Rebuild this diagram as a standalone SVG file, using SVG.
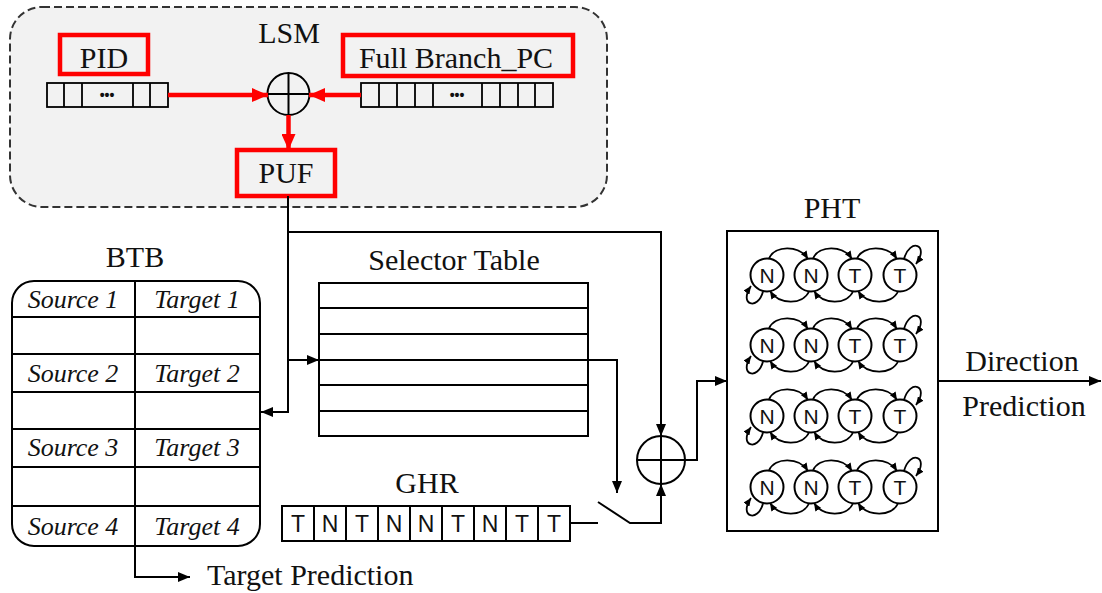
<svg xmlns="http://www.w3.org/2000/svg" width="1102" height="593" viewBox="0 0 1102 593">
<defs>
  <marker id="ab" viewBox="0 0 12 10" refX="12" refY="5" markerWidth="12" markerHeight="10" orient="auto" markerUnits="userSpaceOnUse"><path d="M0,0 L12,5 L0,10 z" fill="#000"/></marker>
  <marker id="ar" viewBox="0 0 16 14" refX="16" refY="7" markerWidth="16" markerHeight="14" orient="auto" markerUnits="userSpaceOnUse"><path d="M0,0 L16,7 L0,14 z" fill="#f00"/></marker>
  <marker id="as" viewBox="0 0 8 7" refX="8" refY="3.5" markerWidth="8" markerHeight="7" orient="auto" markerUnits="userSpaceOnUse"><path d="M0,0 L8,3.5 L0,7 z" fill="#000"/></marker>
  <!-- 2-bit counter transitions for one PHT row, centred on y=0 -->
  <g id="fsm" fill="none" stroke="#000" stroke-width="1.8">
    <path d="M769,-16.5 C775,-30 799,-30 808,-16" marker-end="url(#as)"/>
    <path d="M813,-16.5 C819,-30 843,-30 852,-16" marker-end="url(#as)"/>
    <path d="M857,-16.5 C863,-30 888,-30 897,-16" marker-end="url(#as)"/>
    <path d="M904,-16 C910,-38 930,-30 916,-11" marker-end="url(#as)"/>
    <path d="M809,16.5 C803,30 779,30 770,16" marker-end="url(#as)"/>
    <path d="M853,16.5 C847,30 823,30 814,16" marker-end="url(#as)"/>
    <path d="M898,16.5 C892,30 867,30 858,16" marker-end="url(#as)"/>
    <path d="M763,16.5 C758,36 738,30 751,11" marker-end="url(#as)"/>
  </g>
</defs>
<style>
  .t{font-family:"Liberation Serif","Times New Roman",serif;font-size:30px;fill:#111}
  .i{font-family:"Liberation Serif","Times New Roman",serif;font-style:italic;font-size:26px;fill:#111}
  .s{font-family:"Liberation Sans",Arial,sans-serif;fill:#111}
  .ln{fill:none;stroke:#000;stroke-width:2}
  .rd{fill:none;stroke:#f00;stroke-width:4.5}
  .cell{fill:none;stroke:#000;stroke-width:1.8}
  .st{fill:#fff;stroke:#000;stroke-width:2}
</style>

<rect width="1102" height="593" fill="#fff"/>

<!-- LSM block -->
<g id="lsm">
  <rect x="10" y="7" width="597" height="200" rx="32" fill="#f2f2f2" stroke="#333" stroke-width="2" stroke-dasharray="8,4"/>
  <text class="t" x="289" y="43" text-anchor="middle" font-size="34">LSM</text>
</g>

<g id="pid">
  <rect class="rd" x="60" y="35" width="88" height="39"/>
  <text class="t" x="104" y="68" text-anchor="middle" font-size="31">PID</text>
  <rect class="cell" x="47" y="83" width="121" height="24"/>
  <path class="cell" d="M64,83V107M82,83V107M133,83V107M150,83V107"/>
  <text class="s" x="107" y="100" text-anchor="middle" font-size="14" font-weight="bold">•••</text>
</g>

<g id="full-branch-pc">
  <rect class="rd" x="343" y="35" width="230" height="41"/>
  <text class="t" x="456" y="68" text-anchor="middle" font-size="31">Full Branch_PC</text>
  <rect class="cell" x="361" y="83" width="192" height="24"/>
  <path class="cell" d="M379,83V107M397,83V107M415,83V107M433,83V107M482,83V107M500,83V107M518,83V107M535,83V107"/>
  <text class="s" x="457" y="100" text-anchor="middle" font-size="14" font-weight="bold">•••</text>
</g>

<g id="xor-lsm">
  <circle cx="288.5" cy="94" r="21" fill="none" stroke="#000" stroke-width="2"/>
  <path class="ln" d="M267.5,94H309.5M288.5,73V115"/>
</g>

<g id="puf">
  <rect class="rd" x="237" y="150" width="98" height="46" fill="#f2f2f2"/>
  <text class="t" x="286" y="183" text-anchor="middle" font-size="31">PUF</text>
</g>

<!-- Branch target buffer -->
<g id="btb">
  <text class="t" x="135" y="267" text-anchor="middle">BTB</text>
  <rect x="12" y="281" width="248" height="265" rx="22" fill="#fff" stroke="#000" stroke-width="2"/>
  <path class="ln" d="M12,317H260M12,354H260M12,392H260M12,429H260M12,467H260M12,506H260M135,281V546"/>
  <text class="i" x="73" y="308" text-anchor="middle">Source 1</text>
  <text class="i" x="197" y="308" text-anchor="middle">Target 1</text>
  <text class="i" x="73" y="382" text-anchor="middle">Source 2</text>
  <text class="i" x="197" y="382" text-anchor="middle">Target 2</text>
  <text class="i" x="73" y="456" text-anchor="middle">Source 3</text>
  <text class="i" x="197" y="456" text-anchor="middle">Target 3</text>
  <text class="i" x="73" y="535" text-anchor="middle">Source 4</text>
  <text class="i" x="197" y="535" text-anchor="middle">Target 4</text>
</g>

<g id="selector-table">
  <text class="t" x="454" y="270" text-anchor="middle" font-size="31">Selector Table</text>
  <rect x="319" y="283" width="269" height="153" fill="#fff" stroke="#000" stroke-width="2"/>
  <path class="ln" d="M319,308H588M319,334H588M319,360H588M319,385H588M319,411H588"/>
</g>

<g id="ghr">
  <text class="t" x="427" y="493" text-anchor="middle" font-size="31">GHR</text>
  <rect x="282" y="506" width="288" height="35" fill="#fff" stroke="#000" stroke-width="2"/>
  <path class="ln" d="M314,506V541M346,506V541M378,506V541M410,506V541M442,506V541M474,506V541M506,506V541M538,506V541"/>
  <g class="s" font-size="23" text-anchor="middle">
    <text x="298" y="532">T</text>
    <text x="330" y="532">N</text>
    <text x="362" y="532">T</text>
    <text x="394" y="532">N</text>
    <text x="426" y="532">N</text>
    <text x="458" y="532">T</text>
    <text x="490" y="532">N</text>
    <text x="522" y="532">T</text>
    <text x="554" y="532">T</text>
  </g>
</g>

<g id="xor-index">
  <circle cx="661" cy="460" r="24" fill="#fff" stroke="#000" stroke-width="2"/>
  <path class="ln" d="M637,460H685M661,436V484"/>
</g>

<!-- Pattern history table -->
<g id="pht">
  <text class="t" x="832" y="218" text-anchor="middle">PHT</text>
  <rect x="727" y="231" width="211" height="300" fill="#fff" stroke="#000" stroke-width="2"/>
  <use href="#fsm" y="275"/>
  <use href="#fsm" y="345"/>
  <use href="#fsm" y="416"/>
  <use href="#fsm" y="487"/>
  <g class="st">
    <circle cx="767" cy="275" r="16.5"/><circle cx="811" cy="275" r="16.5"/><circle cx="855" cy="275" r="16.5"/><circle cx="900" cy="275" r="16.5"/>
    <circle cx="767" cy="345" r="16.5"/><circle cx="811" cy="345" r="16.5"/><circle cx="855" cy="345" r="16.5"/><circle cx="900" cy="345" r="16.5"/>
    <circle cx="767" cy="416" r="16.5"/><circle cx="811" cy="416" r="16.5"/><circle cx="855" cy="416" r="16.5"/><circle cx="900" cy="416" r="16.5"/>
    <circle cx="767" cy="487" r="16.5"/><circle cx="811" cy="487" r="16.5"/><circle cx="855" cy="487" r="16.5"/><circle cx="900" cy="487" r="16.5"/>
  </g>
  <g class="s" font-size="21" text-anchor="middle">
    <text x="767" y="283">N</text><text x="811" y="283">N</text><text x="855" y="283">T</text><text x="900" y="283">T</text>
    <text x="767" y="353">N</text><text x="811" y="353">N</text><text x="855" y="353">T</text><text x="900" y="353">T</text>
    <text x="767" y="424">N</text><text x="811" y="424">N</text><text x="855" y="424">T</text><text x="900" y="424">T</text>
    <text x="767" y="495">N</text><text x="811" y="495">N</text><text x="855" y="495">T</text><text x="900" y="495">T</text>
  </g>
</g>

<!-- Connectors -->
<g id="connectors">
  <path class="rd" d="M168,95H268" marker-end="url(#ar)"/>
  <path class="rd" d="M361,95H309" marker-end="url(#ar)"/>
  <path class="rd" d="M288.5,115V150" marker-end="url(#ar)"/>

  <path class="ln" d="M288,196V412H261" marker-end="url(#ab)"/>
  <path class="ln" d="M288,360H319" marker-end="url(#ab)"/>
  <path class="ln" d="M288,232H661V436" marker-end="url(#ab)"/>
  <path class="ln" d="M588,360H617V493" marker-end="url(#ab)"/>
  <path class="ln" d="M570,523H598"/>
  <path class="ln" d="M598,502L630,523H661V484" marker-end="url(#ab)"/>
  <path class="ln" d="M685,460H697V381H727" marker-end="url(#ab)"/>
  <path class="ln" d="M938,381H1101" marker-end="url(#ab)"/>
  <path class="ln" d="M135,546V577H190" marker-end="url(#ab)"/>

  <text class="t" x="1022" y="371" text-anchor="middle">Direction</text>
  <text class="t" x="1024" y="416" text-anchor="middle">Prediction</text>
  <text class="t" x="207" y="585" font-size="31">Target Prediction</text>
</g>
</svg>
